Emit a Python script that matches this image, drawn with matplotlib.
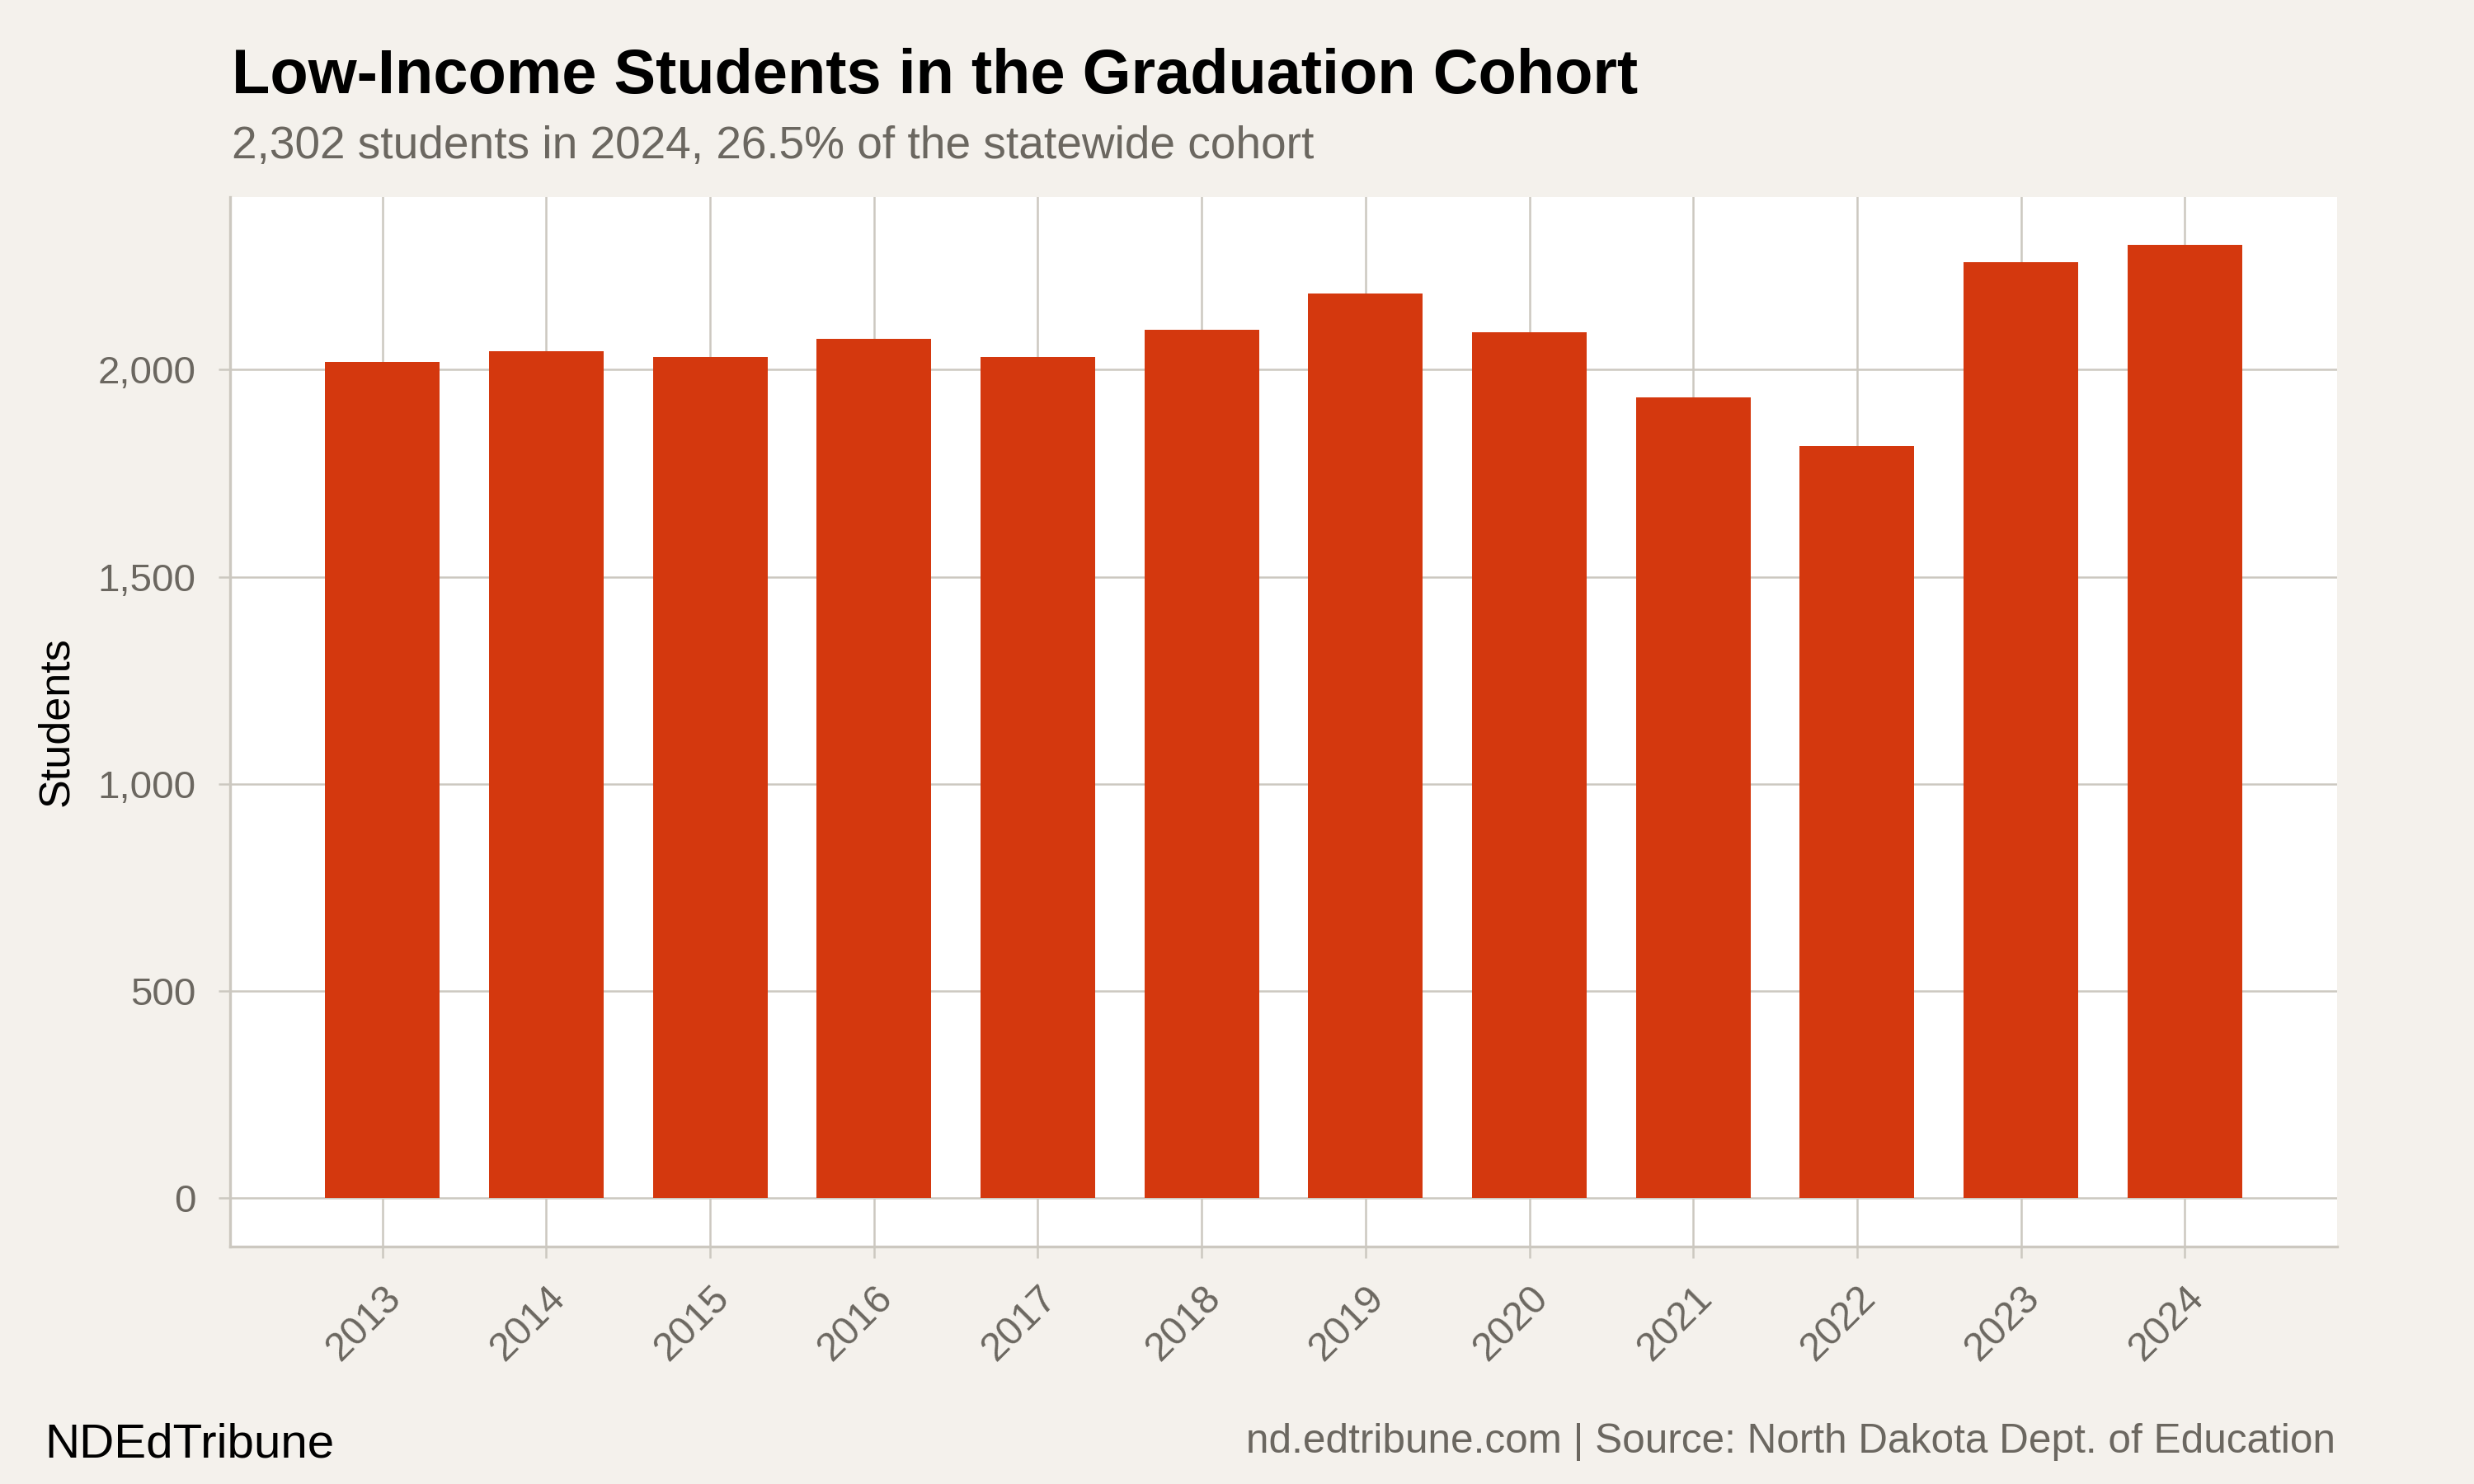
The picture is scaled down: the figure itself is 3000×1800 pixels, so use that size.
import matplotlib
matplotlib.use('Agg')
import matplotlib.pyplot as plt
from matplotlib.ticker import FuncFormatter

plt.rcParams['font.family'] = ['Liberation Sans', 'DejaVu Sans']

years = ['2013', '2014', '2015', '2016', '2017', '2018',
         '2019', '2020', '2021', '2022', '2023', '2024']
students = [2019, 2045, 2031, 2075, 2031, 2097, 2184, 2091, 1933, 1816, 2260, 2302]
yticks = [0, 500, 1000, 1500, 2000]

bg = '#F4F1EC'
grid_c = '#CCC8C0'
gray_txt = '#6B6760'
bar_c = '#D4380E'

fig = plt.figure(figsize=(10, 6), dpi=300, facecolor=bg)
ax = fig.add_axes([279 / 3000, 1 - 1512 / 1800, (2834 - 279) / 3000, (1512 - 239) / 1800])
ax.set_facecolor('white')

x = list(range(len(years)))
ax.bar(x, students, width=0.7, color=bar_c, zorder=3)

ax.set_xlim(-0.93, len(years) - 1 + 0.93)
ax.set_ylim(-117, 2417)
ax.set_xticks(x)
ax.set_xticklabels(years, rotation=45, ha='right', va='top', rotation_mode='anchor')
ax.set_yticks(yticks)
ax.yaxis.set_major_formatter(FuncFormatter(lambda v, p: f'{int(v):,}'))

ax.grid(True, color=grid_c, linewidth=0.6, zorder=0)
ax.set_axisbelow(True)
for s in ['top', 'right']:
    ax.spines[s].set_visible(False)
for s in ['left', 'bottom']:
    ax.spines[s].set_color(grid_c)
    ax.spines[s].set_linewidth(0.8)

ax.tick_params(axis='both', colors=grid_c, length=3.4, width=0.6,
               labelcolor=gray_txt)
ax.tick_params(axis='x', pad=6.2, labelsize=11.6)
ax.tick_params(axis='y', pad=6.6, labelsize=11.4)

ax.set_ylabel('Students', fontsize=12.5, color='black', labelpad=6)

fig.text(281 / 3000, 1 - 113 / 1800, 'Low-Income Students in the Graduation Cohort',
         fontsize=18.2, fontweight='bold', color='black', ha='left', va='baseline')
fig.text(281 / 3000, 1 - 192 / 1800, '2,302 students in 2024, 26.5% of the statewide cohort',
         fontsize=13.2, color=gray_txt, ha='left', va='baseline')
fig.text(54 / 3000, 1 - 1767 / 1800, 'NDEdTribune',
         fontsize=14, color='black', ha='left', va='baseline')
fig.text(2832 / 3000, 1 - 1762 / 1800, 'nd.edtribune.com | Source: North Dakota Dept. of Education',
         fontsize=11.9, color=gray_txt, ha='right', va='baseline')

plt.savefig('out.png', dpi=300, facecolor=bg)
